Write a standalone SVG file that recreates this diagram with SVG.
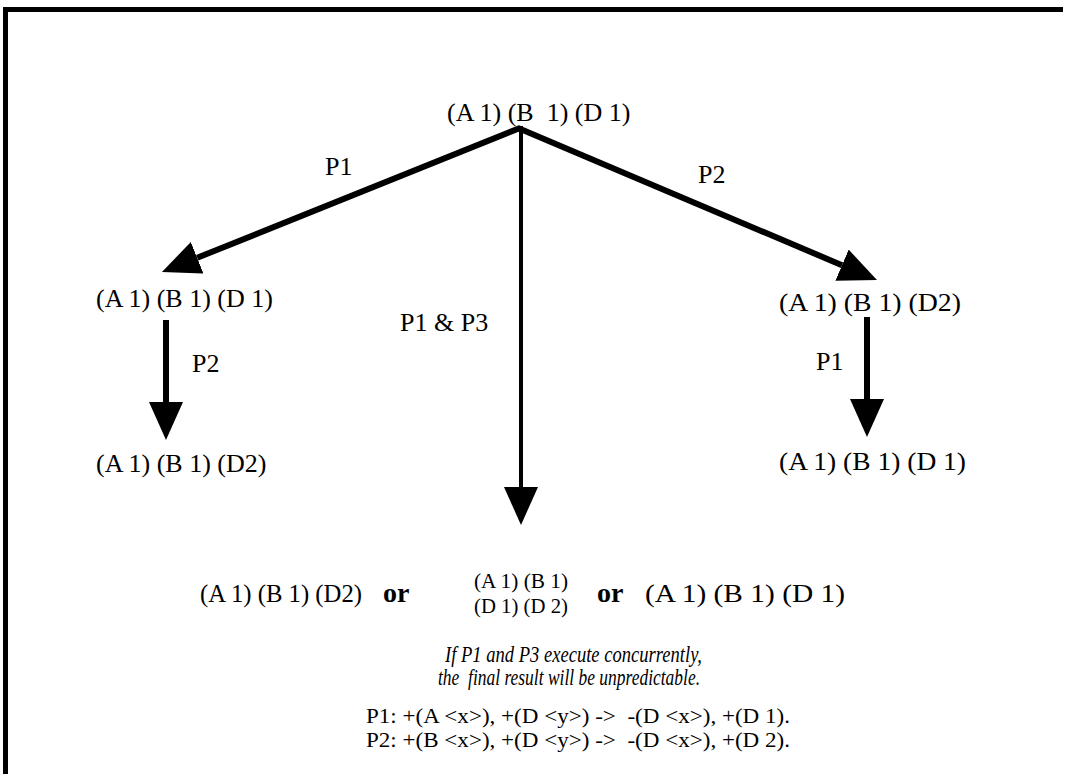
<svg xmlns="http://www.w3.org/2000/svg" width="1065" height="774" viewBox="0 0 1065 774">
<style>
.t{font-family:"Liberation Serif","Times New Roman",serif;font-size:26px;fill:#000}
.s{font-family:"Liberation Serif","Times New Roman",serif;font-size:22px;fill:#000}
.b{font-family:"Liberation Serif","Times New Roman",serif;font-size:28px;font-weight:bold;fill:#000}
.i{font-family:"Liberation Serif","Times New Roman",serif;font-size:23px;font-style:italic;fill:#000}
.r{font-family:"Liberation Serif","Times New Roman",serif;font-size:21px;fill:#000}
.e{stroke:#000;fill:none}
</style>
<defs>
<marker id="ah" markerUnits="userSpaceOnUse" markerWidth="40" markerHeight="36" refX="0" refY="17" orient="auto">
<path d="M0,0 L38,17 L0,34 z" fill="#000"/>
</marker>
</defs>
<rect width="1065" height="774" fill="#fff"/>
<g id="frame">
<line x1="3" y1="9.5" x2="1063" y2="9.5" stroke="#000" stroke-width="5"/>
<line x1="5.5" y1="7" x2="5.5" y2="774" stroke="#000" stroke-width="5"/>
</g>
<g id="connectors">
<line class="e" x1="520" y1="128" x2="197.2" y2="257.8" stroke-width="6" marker-end="url(#ah)"/>
<line class="e" x1="518" y1="128" x2="842" y2="265.2" stroke-width="6" marker-end="url(#ah)"/>
<line class="e" x1="521" y1="126" x2="521" y2="487" stroke-width="4" marker-end="url(#ah)"/>
<line class="e" x1="166" y1="320" x2="166" y2="402" stroke-width="6" marker-end="url(#ah)"/>
<line class="e" x1="867" y1="317" x2="867" y2="399" stroke-width="6" marker-end="url(#ah)"/>
<text class="t" x="325" y="175">P1</text>
<text class="t" x="698" y="183">P2</text>
<text class="t" x="400" y="331">P1 &amp; P3</text>
<text class="t" x="192" y="372">P2</text>
<text class="t" x="816" y="370">P1</text>
</g>
<g id="root"><text class="t" x="447" y="121" xml:space="preserve">(A 1) (B  1) (D 1)</text></g>
<g id="leftMid"><text class="t" x="96" y="307">(A 1) (B 1) (D 1)</text></g>
<g id="leftBottom"><text class="t" x="96" y="472">(A 1) (B 1) (D2)</text></g>
<g id="rightMid"><text class="t" x="779" y="311" textLength="182" lengthAdjust="spacingAndGlyphs">(A 1) (B 1) (D2)</text></g>
<g id="rightBottom"><text class="t" x="779" y="470" textLength="187" lengthAdjust="spacingAndGlyphs">(A 1) (B 1) (D 1)</text></g>
<g id="result">
<text class="t" x="200" y="602" textLength="162" lengthAdjust="spacingAndGlyphs">(A 1) (B 1) (D2)</text>
<text class="b" x="383" y="602">or</text>
<text class="s" x="474" y="588" textLength="94" lengthAdjust="spacingAndGlyphs">(A 1) (B 1)</text>
<text class="s" x="474" y="613" textLength="94" lengthAdjust="spacingAndGlyphs">(D 1) (D 2)</text>
<text class="b" x="597" y="602">or</text>
<text class="t" x="645" y="602" textLength="200" lengthAdjust="spacingAndGlyphs">(A 1) (B 1) (D 1)</text>
</g>
<g id="note">
<text class="i" x="445" y="662" textLength="257" lengthAdjust="spacingAndGlyphs">If P1 and P3 execute concurrently,</text>
<text class="i" x="438" y="685" textLength="262" lengthAdjust="spacingAndGlyphs" xml:space="preserve">the  final result will be unpredictable.</text>
</g>
<g id="rules">
<text class="r" x="366" y="723" textLength="424" lengthAdjust="spacingAndGlyphs" xml:space="preserve">P1: +(A &lt;x&gt;), +(D &lt;y&gt;) -&gt;  -(D &lt;x&gt;), +(D 1).</text>
<text class="r" x="366" y="747" textLength="424" lengthAdjust="spacingAndGlyphs" xml:space="preserve">P2: +(B &lt;x&gt;), +(D &lt;y&gt;) -&gt;  -(D &lt;x&gt;), +(D 2).</text>
</g>
</svg>
